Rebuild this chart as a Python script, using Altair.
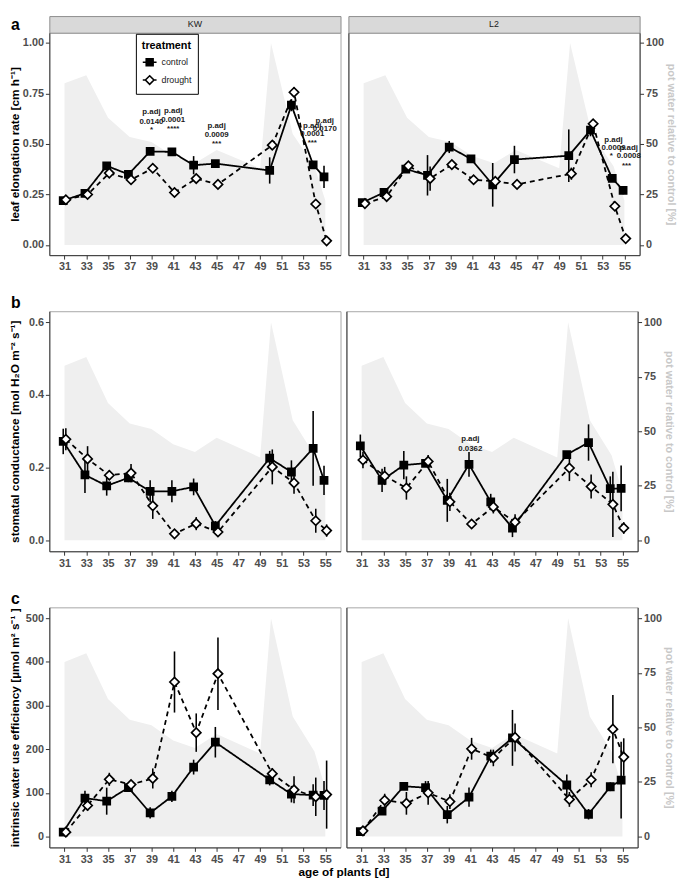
import altair as alt
import pandas as pd

# ---------------- data ----------------
days = [31, 33, 35, 37, 39, 41, 43, 45, 50, 52, 54, 55]
x_ticks = [31, 33, 35, 37, 39, 41, 43, 45, 47, 49, 51, 53, 55]
treatments = ["control", "drought"]

pot_days = [31, 33, 35, 37, 39, 41, 43, 45, 49, 50, 52, 54, 55]
pot_water = [80, 84, 63, 53.5, 51, 44, 40.5, 47, 38, 100, 55, 39, 22]

# (a) leaf elongation rate [cm h-1]
leaf_kw_control = [0.22, 0.256, 0.392, 0.35, 0.463, 0.461, 0.395, 0.403, 0.369, 0.692, 0.397, 0.337]
leaf_kw_control_se = [0.01, 0.01, 0.015, 0.015, 0.015, 0.012, 0.045, 0.012, 0.065, 0.03, 0.015, 0.055]
leaf_kw_drought = [0.224, 0.25, 0.356, 0.323, 0.38, 0.26, 0.329, 0.30, 0.494, 0.756, 0.203, 0.021]
leaf_kw_drought_se = [0.01, 0.01, 0.015, 0.012, 0.012, 0.012, 0.012, 0.012, 0.015, 0.025, 0.015, 0.01]
leaf_l2_control = [0.21, 0.26, 0.376, 0.345, 0.485, 0.426, 0.298, 0.423, 0.442, 0.568, 0.33, 0.271]
leaf_l2_control_se = [0.01, 0.01, 0.015, 0.1, 0.03, 0.01, 0.108, 0.068, 0.13, 0.03, 0.015, 0.02]
leaf_l2_drought = [0.205, 0.24, 0.392, 0.329, 0.398, 0.323, 0.315, 0.30, 0.353, 0.60, 0.192, 0.032]
leaf_l2_drought_se = [0.01, 0.01, 0.015, 0.06, 0.01, 0.02, 0.02, 0.01, 0.03, 0.015, 0.015, 0.01]

# (b) stomatal conductance
gs_kw_control = [0.272, 0.18, 0.15, 0.172, 0.135, 0.135, 0.147, 0.04, 0.226, 0.188, 0.253, 0.165]
gs_kw_control_se = [0.035, 0.05, 0.027, 0.012, 0.03, 0.03, 0.023, 0.013, 0.02, 0.032, 0.103, 0.04]
gs_kw_drought = [0.278, 0.224, 0.179, 0.185, 0.095, 0.018, 0.046, 0.023, 0.202, 0.158, 0.054, 0.027]
gs_kw_drought_se = [0.03, 0.035, 0.013, 0.025, 0.036, 0.008, 0.018, 0.006, 0.048, 0.03, 0.033, 0.017]
gs_l2_control = [0.26, 0.165, 0.207, 0.212, 0.11, 0.209, 0.106, 0.034, 0.236, 0.269, 0.142, 0.143]
gs_l2_control_se = [0.031, 0.032, 0.039, 0.01, 0.059, 0.034, 0.022, 0.025, 0.01, 0.05, 0.034, 0.063]
gs_l2_drought = [0.221, 0.177, 0.144, 0.217, 0.106, 0.045, 0.092, 0.05, 0.199, 0.148, 0.099, 0.034]
gs_l2_drought_se = [0.023, 0.025, 0.032, 0.018, 0.025, 0.007, 0.018, 0.022, 0.036, 0.033, 0.09, 0.016]

# (c) intrinsic water use efficiency
wue_kw_control = [10, 88, 81, 112, 54, 92, 159, 216, 130, 97, 95, 94]
wue_kw_control_se = [4, 17, 31, 7, 13, 13, 17, 35, 13, 19, 25, 33]
wue_kw_drought = [10, 71, 131, 119, 133, 354, 238, 373, 144, 107, 91, 96]
wue_kw_drought_se = [4, 12, 15, 10, 23, 70, 44, 83, 13, 31, 44, 78]
wue_l2_control = [11, 58, 115, 112, 50, 90, 184, 226, 118, 51, 114, 129]
wue_l2_control_se = [4, 6, 6, 15, 20, 22, 15, 64, 24, 12, 10, 88]
wue_l2_drought = [13, 83, 76, 100, 80, 201, 180, 227, 85, 130, 246, 182]
wue_l2_drought_se = [4, 15, 26, 27, 17, 25, 19, 32, 17, 17, 78, 43]

# significance annotations
ann_a_kw_day = [39, 39, 39, 41, 41, 41, 45, 45, 45, 53.8, 53.8, 53.8, 54.95, 54.95]
ann_a_kw_y = [0.656, 0.611, 0.568, 0.665, 0.62, 0.576, 0.589, 0.544, 0.5, 0.589, 0.547, 0.503, 0.616, 0.576]
ann_a_kw_text = ["p.adj", "0.0140", "*", "p.adj", "0.0001", "****", "p.adj", "0.0009", "***",
                 "p.adj", "0.0001", "***", "p.adj", "0.0170"]
ann_a_l2_day = [54, 54, 53.8, 55.4, 55.4, 55.2]
ann_a_l2_y = [0.52, 0.48, 0.44, 0.48, 0.44, 0.39]
ann_a_l2_text = ["p.adj", "0.0009", "*", "p.adj", "0.0008", "***"]
ann_b_l2_day = [41, 41]
ann_b_l2_y = [0.28, 0.25]
ann_b_l2_text = ["p.adj", "0.0362"]

# ---------------- layout constants ----------------
W = 296
H_A = 226
H = 244
ROW_GAP = 22
FONT = "Liberation Sans"


def mkdf(ctrl, ctrl_se, dr, dr_se):
    rows = []
    for trt, m, s in (("control", ctrl, ctrl_se), ("drought", dr, dr_se)):
        for d, mm, ss in zip(days, m, s):
            rows.append({"day": d, "treatment": trt, "mean": mm, "lo": mm - ss, "hi": mm + ss})
    return pd.DataFrame(rows)


def mkann(dd, yy, tt):
    return pd.DataFrame({"xd": dd, "y": yy, "label": tt})


pot_df = pd.DataFrame({"xd": pot_days, "pot": pot_water})

PATH_C = "M-1,0L1,0M-0.5,-0.5L0.5,-0.5L0.5,0.5L-0.5,0.5Z"
PATH_D = "M-1,0L-0.62,0M0.62,0L1,0M0,-0.62L0.62,0L0,0.62L-0.62,0Z"


def panel(df, ann, ydom, yvals, yfmt, ytitle, left, height, letter=None,
          legend=False, xtitle=None):
    xs = alt.Scale(domain=[29.6, 56.4], nice=False, zero=False)
    if xtitle:
        xaxis = alt.Axis(values=x_ticks, format="d", title=xtitle, titleX=W + 3,
                         titleAlign="center", titlePadding=3, titleFontSize=12)
    else:
        xaxis = alt.Axis(values=x_ticks, format="d", title=None)
    ys = alt.Scale(domain=ydom, nice=False, zero=False)
    if left:
        yaxis = alt.Axis(orient="left", values=yvals, format=yfmt, title=ytitle,
                         titleX=-28, titleY=height / 2, titleFontSize=12)
    else:
        yaxis = alt.Axis(orient="left", values=yvals, labels=False, ticks=False, title=None)
    X = alt.X("xd:Q", scale=xs, axis=xaxis)

    if left:
        sec_axis = None
    else:
        sec_axis = alt.Axis(orient="right", values=[0, 25, 50, 75, 100], format="d",
                            title="pot water relative to control [%]", titleColor="#C8C8C8",
                            titleFontSize=11, titleFontWeight="bold", titlePadding=2)
    area = alt.Chart(pot_df).mark_area(color="#EFEFEF", opacity=1).encode(
        x=X,
        y=alt.Y("pot:Q", scale=alt.Scale(domain=[-5, 105], nice=False, zero=False), axis=sec_axis),
        y2=alt.datum(0),
    )

    base = alt.Chart(df).transform_calculate(
        xd="datum.day + (datum.treatment == 'control' ? -0.12 : 0.12)"
    )
    lines = base.mark_line(color="black", strokeWidth=1.8).encode(
        x=X,
        y=alt.Y("mean:Q", scale=ys, axis=yaxis),
        strokeDash=alt.StrokeDash("treatment:N",
                                  scale=alt.Scale(domain=treatments, range=[[1, 0], [5, 4]]),
                                  legend=None),
    )
    rules = base.mark_rule(color="black", strokeWidth=1.6).encode(
        x=X,
        y=alt.Y("lo:Q", scale=ys, axis=yaxis),
        y2="hi:Q",
    )
    pts = base.mark_point(filled=True, stroke="black", strokeWidth=1.7, opacity=1).encode(
        x=X,
        y=alt.Y("mean:Q", scale=ys, axis=yaxis),
        shape=alt.Shape("treatment:N", scale=alt.Scale(domain=treatments, range=["square", "diamond"]),
                        legend=None),
        fill=alt.Fill("treatment:N", scale=alt.Scale(domain=treatments, range=["black", "white"]),
                      legend=None),
        size=alt.Size("treatment:N", scale=alt.Scale(domain=treatments, range=[52, 90]), legend=None),
    )
    inner = [lines, rules, pts]
    if ann is not None:
        inner.append(
            alt.Chart(ann).mark_text(fontSize=8, fontWeight="bold", color="#1A1A1A", font=FONT).encode(
                x=X, y=alt.Y("y:Q", scale=ys, axis=yaxis), text="label:N"
            )
        )
    if letter:
        inner.append(
            alt.Chart(pd.DataFrame({"l": [letter]})).mark_text(
                fontSize=16, fontWeight="bold", align="left", baseline="alphabetic",
                color="black", font=FONT
            ).encode(text="l:N", x=alt.value(-39), y=alt.value(-3))
        )
    if legend:
        L = alt.Legend(title="treatment", orient="none", legendX=88, legendY=1,
                       direction="vertical", titleFontSize=11, titleFontWeight="bold",
                       titleColor="black", titleFont=FONT, labelFont=FONT,
                       labelFontSize=9, labelColor="#1A1A1A", strokeColor="black",
                       fillColor="white", padding=6, symbolSize=196,
                       symbolStrokeWidth=1.6, symbolStrokeColor="black",
                       rowPadding=3, titlePadding=4, labelOffset=4)
        leg = alt.Chart(pd.DataFrame({"treatment": treatments})).mark_point(
            filled=False, strokeWidth=1.6, opacity=1
        ).encode(
            shape=alt.Shape("treatment:N", scale=alt.Scale(domain=treatments, range=[PATH_C, PATH_D]),
                            legend=L),
            fill=alt.Fill("treatment:N", scale=alt.Scale(domain=treatments, range=["black", "white"]),
                          legend=L),
            stroke=alt.Stroke("treatment:N", scale=alt.Scale(domain=treatments, range=["black", "black"]),
                              legend=L),
        ).transform_filter("false")
        inner.append(leg)
    inner_layer = alt.layer(*inner).resolve_scale(
        shape="independent", fill="independent", size="independent",
        strokeDash="independent", stroke="independent"
    )
    return alt.layer(area, inner_layer).resolve_scale(y="independent").properties(
        width=W, height=height
    )


def strip(label, letter=None):
    layers = [
        alt.Chart(pd.DataFrame({"lab": [label]})).mark_text(
            fontSize=9, color="#1A1A1A", font=FONT, baseline="middle"
        ).encode(text="lab:N", x=alt.value(W / 2), y=alt.value(8.5))
    ]
    if letter:
        layers.append(
            alt.Chart(pd.DataFrame({"l": [letter]})).mark_text(
                fontSize=16, fontWeight="bold", align="left", baseline="top",
                color="black", font=FONT
            ).encode(text="l:N", x=alt.value(-39), y=alt.value(1))
        )
    return alt.layer(*layers).properties(
        width=W, height=17, view=alt.ViewBackground(fill="#D9D9D9", stroke="#8C8C8C")
    )


# ---------------- panels ----------------
yA = dict(ydom=[-0.05, 1.05], yvals=[0, 0.25, 0.5, 0.75, 1.0], yfmt=".2f",
          ytitle="leaf elongation rate [cm  h⁻¹]")
yB = dict(ydom=[-0.03, 0.63], yvals=[0, 0.2, 0.4, 0.6], yfmt=".1f",
          ytitle="stomatal conductance [mol  H₂O m⁻² s⁻¹]")
yC = dict(ydom=[-25, 525], yvals=[0, 100, 200, 300, 400, 500], yfmt="d",
          ytitle="intrinsic water use efficiency [µmol m² s⁻¹ ]")

a_kw = panel(mkdf(leaf_kw_control, leaf_kw_control_se, leaf_kw_drought, leaf_kw_drought_se),
             mkann(ann_a_kw_day, ann_a_kw_y, ann_a_kw_text), left=True, height=H_A, legend=True, **yA)
a_l2 = panel(mkdf(leaf_l2_control, leaf_l2_control_se, leaf_l2_drought, leaf_l2_drought_se),
             mkann(ann_a_l2_day, ann_a_l2_y, ann_a_l2_text), left=False, height=H_A, **yA)
b_kw = panel(mkdf(gs_kw_control, gs_kw_control_se, gs_kw_drought, gs_kw_drought_se),
             None, left=True, height=H, letter="b", **yB)
b_l2 = panel(mkdf(gs_l2_control, gs_l2_control_se, gs_l2_drought, gs_l2_drought_se),
             mkann(ann_b_l2_day, ann_b_l2_y, ann_b_l2_text), left=False, height=H, **yB)
c_kw = panel(mkdf(wue_kw_control, wue_kw_control_se, wue_kw_drought, wue_kw_drought_se),
             None, left=True, height=H, letter="c", xtitle="age of plants [d]", **yC)
c_l2 = panel(mkdf(wue_l2_control, wue_l2_control_se, wue_l2_drought, wue_l2_drought_se),
             None, left=False, height=H, **yC)

rowA = alt.hconcat(
    alt.vconcat(strip("KW", "a"), a_kw, spacing=0, bounds="flush"),
    alt.vconcat(strip("L2"), a_l2, spacing=0, bounds="flush"),
    spacing=6,
)
rowB = alt.hconcat(b_kw, b_l2, spacing=6, bounds="flush")
rowC = alt.hconcat(c_kw, c_l2, spacing=6, bounds="flush")

chart = alt.vconcat(rowA, rowB, rowC, spacing=ROW_GAP, padding=0).configure(
    font=FONT
).configure_axis(
    labelFont=FONT, labelFontWeight="bold", labelFontSize=11, labelColor="#4D4D4D",
    tickColor="#333333", domainColor="#333333", tickSize=4, labelPadding=2, grid=False,
    titleFont=FONT, titleFontWeight="bold", titleColor="black",
).configure_view(stroke="#A6A6A6", strokeWidth=1)

chart.save("out.html", embed_options={"renderer": "svg", "actions": False})
